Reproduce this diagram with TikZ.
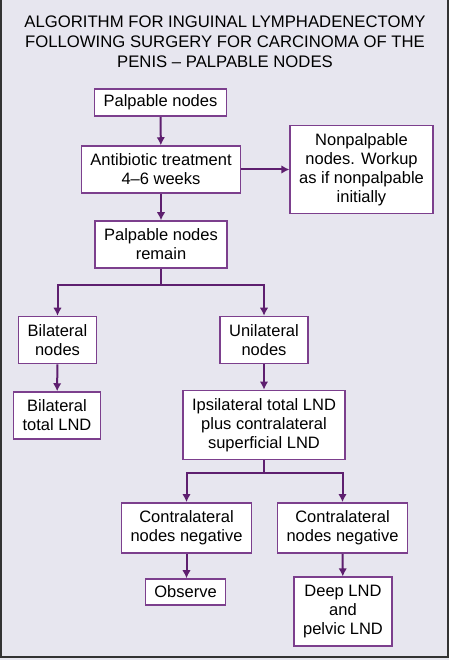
\documentclass[tikz,border=0pt]{standalone}
\usepackage{fontspec}
\setmainfont{Liberation Sans}
\usepackage{xcolor}
\usetikzlibrary{arrows.meta}
\definecolor{bgpage}{HTML}{E7E6EF}
\definecolor{boxline}{HTML}{7C3F8D}
\definecolor{arrowline}{HTML}{5E1F6F}
\definecolor{frameline}{HTML}{333333}
\tikzset{
  box/.style={draw=boxline, line width=1.4pt, fill=white, align=center,
    inner xsep=9pt, inner ysep=8pt},
  flow/.style={->, draw=arrowline, line width=2pt}
}

\begin{document}
\begin{tikzpicture}[x=1pt, y=-1pt, >={Latex[length=8pt,width=8.5pt]},
    every node/.style={font=\fontsize{16.5}{19}\selectfont}]
    % page
    \fill[bgpage] (0,0) rectangle (449,660);
    \useasboundingbox (0,0) rectangle (449,660);
    \draw[frameline, line width=1.6pt] (1,0) -- (1,657) -- (448,657) -- (448,0);
    % title
    \node[align=center, anchor=north, font=\fontsize{16.7}{20}\selectfont] (title) at (225,12)
      {ALGORITHM FOR INGUINAL LYMPHADENECTOMY\\FOLLOWING SURGERY FOR CARCINOMA OF THE\\PENIS -- PALPABLE NODES};
    % first steps
    \node[box, inner ysep=6pt] (pal) at (160.5,102.5) {Palpable nodes};
    \node[box] (anti) at (161,169.5) {Antibiotic treatment\\4--6 weeks};
    \node[box] (nonpal) at (361.5,169.5) {Nonpalpable\\nodes. Workup\\as if nonpalpable\\initially};
    \node[box] (remain) at (161,244.5) {Palpable nodes\\remain};
    % left branch
    \node[box] (bil) at (57.5,340) {Bilateral\\nodes};
    \node[box] (biltot) at (57,415.5) {Bilateral\\total LND};
    % right branch
    \node[box] (uni) at (264,340) {Unilateral\\nodes};
    \node[box] (ipsi) at (264,425) {Ipsilateral total LND\\plus contralateral\\superficial LND};
    \node[box] (contraL) at (186.5,528) {Contralateral\\nodes negative};
    \node[box] (contraR) at (342.5,528) {Contralateral\\nodes negative};
    \node[box, inner ysep=7pt] (observe) at (185.5,592) {Observe};
    \node[box] (deep) at (343,611.5) {Deep LND\\and\\pelvic LND};
    % junctions
    \coordinate (split1) at (161,285);
    \coordinate (split2) at (264,473);
    % arrows
    \draw[flow] (pal) -- (anti);
    \draw[flow] (anti) -- (nonpal);
    \draw[flow] (anti) -- (remain);
    \draw[flow] (remain.south) -- (split1) -| (bil.north);
    \draw[flow] (split1) -| (uni.north);
    \draw[flow] (bil) -- (biltot);
    \draw[flow] (uni) -- (ipsi);
    \draw[flow] (ipsi.south) -- (split2) -| (contraL.north);
    \draw[flow] (split2) -| (contraR.north);
    \draw[flow] (contraL.south) -- (observe.north -| contraL.south);
    \draw[flow] (contraR) -- (deep);
  \end{tikzpicture}
\end{document}
